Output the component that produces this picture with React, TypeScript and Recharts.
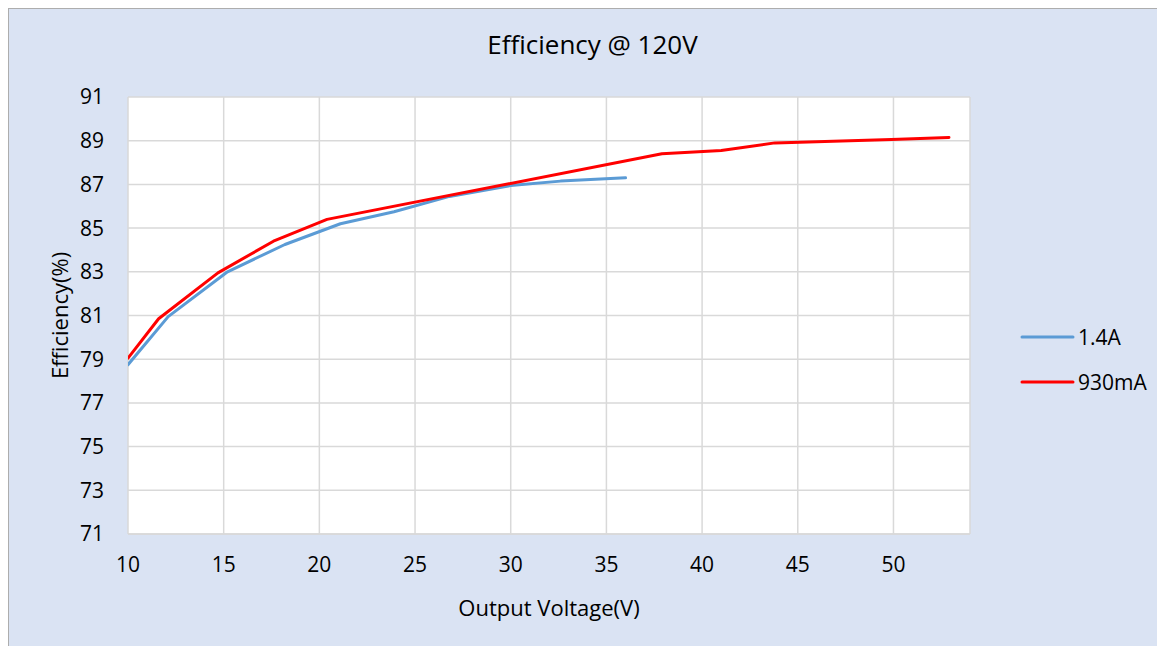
import React from 'react';
import { LineChart, Line, XAxis, YAxis, CartesianGrid, Legend } from 'recharts';

const chartTitle = 'Efficiency @ 120V';
const xAxisTitle = 'Output Voltage(V)';
const yAxisTitle = 'Efficiency(%)';

const seriesNames = ['1.4A', '930mA'];
const seriesColors = ['#5B9BD5', '#FF0000'];

const voltage14A = [10, 12.1, 15.2, 18.2, 21.1, 23.9, 26.8, 30, 32.6, 36];
const efficiency14A = [78.75, 80.95, 83.0, 84.25, 85.2, 85.75, 86.45, 86.95, 87.15, 87.3];

const voltage930mA = [10, 11.6, 14.7, 17.6, 20.4, 37.9, 41, 43.8, 49.9, 52.9];
const efficiency930mA = [79.05, 80.85, 82.95, 84.4, 85.4, 88.4, 88.55, 88.9, 89.05, 89.15];

const xTicks = [10, 15, 20, 25, 30, 35, 40, 45, 50];
const yTicks = [71, 73, 75, 77, 79, 81, 83, 85, 87, 89, 91];
const xDomain = [10, 54];
const yDomain = [71, 91];

const data14A = voltage14A.map((v, i) => ({ v, e: efficiency14A[i] }));
const data930mA = voltage930mA.map((v, i) => ({ v, e: efficiency930mA[i] }));

const FONT = '"Open Sans", "Liberation Sans", sans-serif';

const renderLegend = (props: any) => {
  const payload = props.payload || [];
  return (
    <svg width={150} height={90} style={{ display: 'block' }}>
      {payload.map((p: any, i: number) => (
        <g key={i}>
          <line
            x1={3}
            x2={54}
            y1={23 + i * 45}
            y2={23 + i * 45}
            stroke={p.color}
            strokeWidth={3}
            strokeLinecap="round"
          />
          <text x={59} y={23 + i * 45 + 7.5} fontSize={21} fill="#000" fontFamily={FONT}>
            {p.value}
          </text>
        </g>
      ))}
    </svg>
  );
};

const XTitle = (props: any) => {
  const vb = props.viewBox || { x: 0, y: 0, width: 0, height: 0 };
  return (
    <text x={vb.x + vb.width / 2} y={vb.y + 82} textAnchor="middle" fontSize={22} fill="#000" fontFamily={FONT}>
      {xAxisTitle}
    </text>
  );
};

const YTitle = (props: any) => {
  const vb = props.viewBox || { x: 0, y: 0, width: 0, height: 0 };
  const cx = 59;
  const cy = vb.y + vb.height / 2;
  return (
    <text
      x={cx}
      y={cy}
      transform={`rotate(-90, ${cx}, ${cy})`}
      textAnchor="middle"
      fontSize={22}
      fill="#000"
      fontFamily={FONT}
    >
      {yAxisTitle}
    </text>
  );
};

export default function App() {
  return (
    <div
      style={{
        position: 'relative',
        width: 1170,
        height: 650,
        background: '#DAE3F3',
        border: '1px solid #ADADAD',
        boxSizing: 'border-box',
        fontFamily: FONT,
      }}
    >
      <style>{`body{overflow:hidden}`}</style>
      <svg
        width={1168}
        height={70}
        style={{ position: 'absolute', left: 0, top: 0, pointerEvents: 'none' }}
      >
        <text x={583.5} y={45} textAnchor="middle" fontSize={26} fill="#000" fontFamily={FONT}>
          {chartTitle}
        </text>
      </svg>
      <LineChart
        width={1156}
        height={637}
        margin={{ top: 88, right: 195, bottom: 0, left: 0 }}
        style={{ position: 'absolute', left: 0, top: 0 }}
      >
        <CartesianGrid stroke="#D9D9D9" strokeWidth={1.5} fill="#FFFFFF" fillOpacity={1} />
        <XAxis
          type="number"
          dataKey="v"
          domain={xDomain}
          ticks={xTicks}
          allowDataOverflow
          height={112}
          tickLine={false}
          tickSize={0}
          tickMargin={23}
          axisLine={{ stroke: '#D9D9D9', strokeWidth: 1.5 }}
          tick={{ fontSize: 21, fill: '#000', fontFamily: FONT }}
          label={XTitle}
        />
        <YAxis
          type="number"
          domain={yDomain}
          ticks={yTicks}
          allowDataOverflow
          width={119}
          tickLine={false}
          tickSize={0}
          tickMargin={24}
          axisLine={false}
          tick={{ fontSize: 21, fill: '#000', fontFamily: FONT }}
          label={YTitle}
        />
        <Legend
          layout="vertical"
          align="center"
          verticalAlign="middle"
          content={renderLegend}
          wrapperStyle={{ position: 'absolute', left: 1010, top: 305, width: 150, height: 90 }}
        />
        <Line
          data={data14A}
          dataKey="e"
          name={seriesNames[0]}
          stroke={seriesColors[0]}
          strokeWidth={3}
          dot={false}
          type="linear"
          strokeLinecap="round"
          strokeLinejoin="round"
          isAnimationActive={false}
        />
        <Line
          data={data930mA}
          dataKey="e"
          name={seriesNames[1]}
          stroke={seriesColors[1]}
          strokeWidth={3}
          dot={false}
          type="linear"
          strokeLinecap="round"
          strokeLinejoin="round"
          isAnimationActive={false}
        />
      </LineChart>
    </div>
  );
}
